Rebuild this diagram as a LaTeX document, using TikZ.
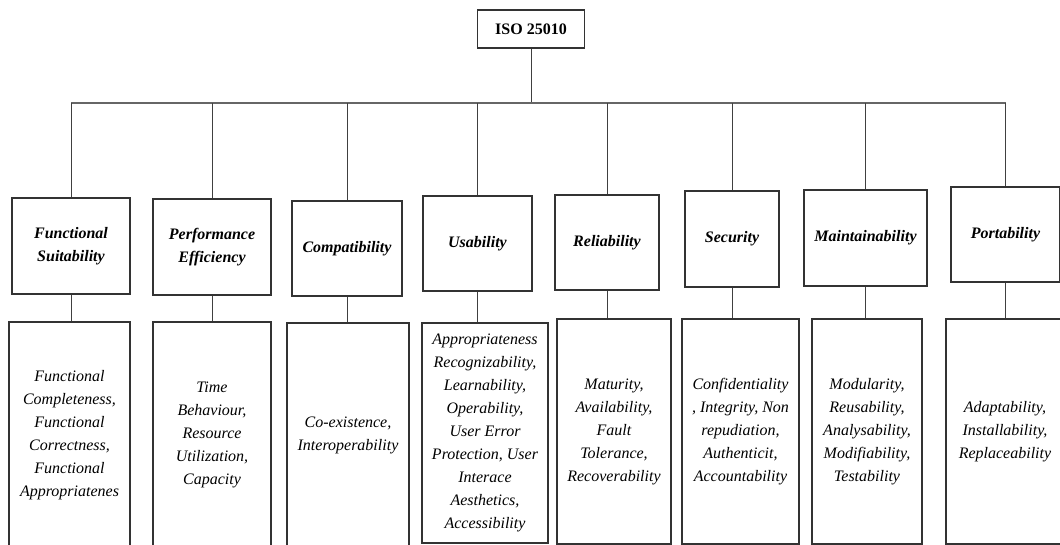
\documentclass[tikz,border=0pt]{standalone}
\usepackage{fontspec}
\setmainfont{Liberation Serif}
\usepackage{tikz}
\newdimen\px \px=0.75pt
\tikzset{
  box/.style={draw=black!80,line width=0.8pt,inner sep=0pt,align=center},
  cattext/.style={font=\fontsize{12}{17.25}\selectfont\bfseries\itshape},
  subtext/.style={font=\fontsize{12}{17.25}\selectfont\itshape},
  link/.style={draw=black!75,line width=0.7pt},
}

\begin{document}
\begin{tikzpicture}[x=0.75pt,y=-0.75pt]
\useasboundingbox (0,0) rectangle (1060,545);
% root
\node[box,minimum width=107\px,minimum height=38\px,font=\fontsize{12}{14}\selectfont\bfseries] (iso) at (531,29) {ISO 25010};
\coordinate (bar) at (0,103);
% characteristics
\foreach \n/\x/\y/\w/\h/\t in {1/71/246/118/96/{Functional\\Suitability},
   2/212/247/118/96/{Performance\\Efficiency},
   3/347/248.5/110/95/Compatibility,
   4/477.5/243.5/109/95/Usability,
   5/607/242.5/104/95/Reliability,
   6/732/239/94/96/Security,
   7/865.5/238/123/96/Maintainability,
   8/1005.5/234.5/109/95/Portability}
   \node[box,cattext,minimum width=\w\px,minimum height=\h\px] (c\n) at (\x,\y) {\t};
% sub-characteristics
\foreach \n/\x/\y/\w/\h/\t in {1/69.5/435/121/226/{Functional\\Completeness,\\Functional\\Correctness,\\Functional\\Appropriatenes},
   2/212/435/118/226/{Time\\Behaviour,\\Resource\\Utilization,\\Capacity},
   3/348/435.5/122/225/{Co-existence,\\Interoperability},
   4/485/433/126/220/{Appropriateness\\Recognizability,\\Learnability,\\Operability,\\User Error\\Protection, User\\Interace\\Aesthetics,\\Accessibility},
   5/614/431.5/114/225/{Maturity,\\Availability,\\Fault\\Tolerance,\\Recoverability},
   6/740.5/431.5/117/225/{Confidentiality\\{,} Integrity, Non\\repudiation,\\Authenticit,\\Accountability},
   7/867/431.5/110/225/{Modularity,\\Reusability,\\Analysability,\\Modifiability,\\Testability},
   8/1005/431.5/118/225/{Adaptability,\\Installability,\\Replaceability}}
   \node[box,subtext,minimum width=\w\px,minimum height=\h\px] (d\n) at (\x,\y) {\t};
% connectors
\draw[link] (iso) -- (iso |- bar);
\draw[link,line width=1.3pt,draw=black!60] (c1 |- bar) -- (c8 |- bar);
\foreach \n in {1,...,8}{
   \draw[link] (c\n.north |- bar) -- (c\n);
   \draw[link] (c\n) -- (c\n |- d\n.north);
}
\end{tikzpicture}
\end{document}
